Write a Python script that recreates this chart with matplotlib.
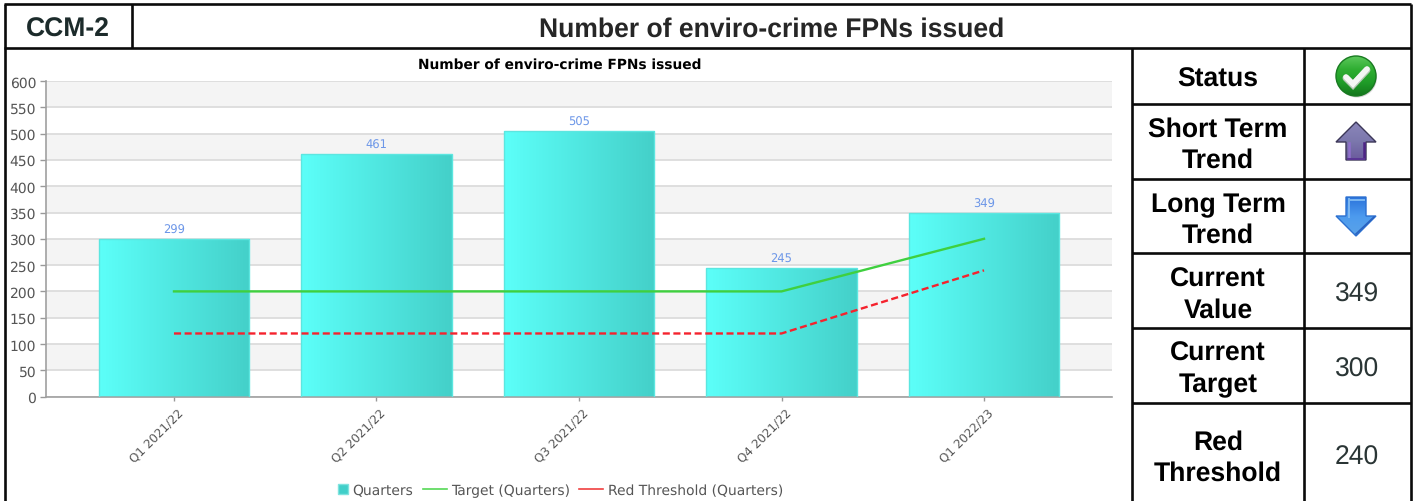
import matplotlib
matplotlib.use('Agg')
import matplotlib.pyplot as plt
import numpy as np
from matplotlib.colors import LinearSegmentedColormap
from matplotlib.legend_handler import HandlerPatch
from matplotlib.lines import Line2D
from matplotlib.patches import Circle, Patch, Polygon, Rectangle
from matplotlib.transforms import ScaledTranslation

plt.rcParams['text.hinting'] = 'no_hinting'

quarters = ['Q1 2021/22', 'Q2 2021/22', 'Q3 2021/22', 'Q4 2021/22', 'Q1 2022/23']
values = [299, 461, 505, 245, 349]
target = [200, 200, 200, 200, 300]
red_threshold = [120, 120, 120, 120, 240]

code = 'CCM-2'
title = 'Number of enviro-crime FPNs issued'
text_rows = ['Current\nValue', 'Current\nTarget', 'Red\nThreshold']
text_values = ['349', '300', '240']

W, H = 1415, 502
fig = plt.figure(figsize=(W / 100, H / 100), dpi=100, facecolor='white')


def px_axes(left, top, right, bottom):
    return fig.add_axes([left / W, 1 - bottom / H, (right - left) / W, (bottom - top) / H])


def square_swatch(legend, orig_handle, xdescent, ydescent, width, height, fontsize):
    # small square at the right end of the handle box
    side = 7.4
    return Rectangle((width - side - xdescent, (height - side) / 2 - ydescent), side, side)


# chart
ax = px_axes(46, 82, 1112, 397.6)
ax.set_xlim(-0.632, 4.632)
ax.set_ylim(0, 600)
ax.set_yticks(np.arange(0, 601, 50))
ax.set_xticks(range(len(quarters)))
ax.set_xticklabels(quarters, rotation=45, ha='right', rotation_mode='anchor', fontsize=8.6, color='#555555')
ax.tick_params(axis='y', labelsize=10, labelcolor='#555555', color='#999999', length=4, width=1, pad=3)
ax.tick_params(axis='x', color='#999999', length=3, width=1, pad=8)
# nudge the slanted labels, has to come after tick_params
shift = ScaledTranslation(4 / 100, 5 / 100, fig.dpi_scale_trans)
for lab in ax.get_xticklabels():
    lab.set_transform(lab.get_transform() + shift)
for s in ['top', 'right']:
    ax.spines[s].set_visible(False)
for s in ['left', 'bottom']:
    ax.spines[s].set_color('#a0a0a0')
    ax.spines[s].set_linewidth(1.2)

# alternate bands behind the grid
for low in np.arange(50, 600, 100):
    ax.axhspan(low, low + 50, color='#f4f4f4', lw=0, zorder=0)
ax.grid(axis='y', color='#dcdcdc', lw=1.3, zorder=1)
ax.set_axisbelow(True)

cyan = LinearSegmentedColormap.from_list('cyan', ['#5cfff9', '#44d0c9'])
bars = ax.bar(range(len(values)), values, width=0.741, color='none', edgecolor='#5ce6e0', lw=1, zorder=3)
for bar in bars:
    x0, w, h = bar.get_x(), bar.get_width(), bar.get_height()
    img = ax.imshow(np.linspace(0, 1, 256).reshape(1, -1), cmap=cyan, aspect='auto',
                    extent=(x0, x0 + w, 0, h), zorder=2)
    img.set_clip_path(bar)
ax.set_xlim(-0.632, 4.632)
ax.set_ylim(0, 600)
ax.bar_label(bars, padding=2.8, fontsize=8.3, color='#6d97e8')

ax.plot(range(len(target)), target, color='#3fd03f', lw=1.7, zorder=4)
ax.plot(range(len(red_threshold)), red_threshold, color='#f5222d', lw=1.7, ls=(0, (3, 1.5)), zorder=4)

fig.text(559.5 / W, 1 - 65 / H, title, ha='center', va='center', fontsize=9.9, fontweight='bold', color='black')

handles = [Patch(facecolor='#40cfc9', edgecolor='#7fe3de', label='Quarters'),
           Line2D([], [], color='#55d855', lw=1.2, label='Target (Quarters)'),
           Line2D([], [], color='#f04040', lw=1.2, label='Red Threshold (Quarters)')]
fig.legend(handles=handles, loc='center', bbox_to_anchor=(553.5 / W, 1 - 491 / H), ncol=3, frameon=False,
           fontsize=10, labelcolor='#555555', handlelength=1.75, handleheight=0.9, handletextpad=0.3,
           columnspacing=0.65, borderpad=0,
           handler_map={Patch: HandlerPatch(patch_func=square_swatch)})

# table frame and icons drawn on a pixel-sized overlay
ov = px_axes(0, 0, W, H)
ov.set_xlim(0, W)
ov.set_ylim(H, 0)
ov.axis('off')
ov.patch.set_alpha(0)

frame = [((4.5, 5), (4.5, 502)), ((4, 5), (1411, 5)), ((1410.5, 5), (1410.5, 502)), ((4, 49.3), (1411, 49.3)),
         ((132, 5), (132, 49)), ((1132, 49), (1132, 502)), ((1303.5, 49), (1303.5, 502)),
         ((1132, 105), (1411, 105)), ((1132, 179.5), (1411, 179.5)), ((1132, 254), (1411, 254)),
         ((1132, 329), (1411, 329)), ((1132, 404), (1411, 404))]
for a, b in frame:
    ov.plot([a[0], b[0]], [a[1], b[1]], color='#0a0a0a', lw=1.9, solid_capstyle='butt')

font = 'Liberation Sans'
bold = dict(ha='center', va='center', family=font, fontweight='bold', fontsize=19.1, linespacing=1.3)
ov.text(68, 30, code, color='#1c2b2b', **bold)
ov.text(771.5, 30, title, color='#262626', **bold)
ov.text(1218, 80, 'Status', **bold)
ov.text(1218, 145.5, 'Short Term\nTrend', **bold)
ov.text(1218, 220.5, 'Long Term\nTrend', **bold)
for label, val, yc in zip(text_rows, text_values, [295, 369.5, 458]):
    ov.text(1218, yc, label, **bold)
    ov.text(1357, yc, val, ha='center', va='center', family=font, fontsize=19.1, color='#2a3535')


def gradient_patch(patch, colors, box):
    ov.add_patch(patch)
    cmap = LinearSegmentedColormap.from_list('g', colors)
    img = ov.imshow(np.linspace(0, 1, 128).reshape(-1, 1), cmap=cmap, aspect='auto', extent=box,
                    zorder=patch.get_zorder() - 0.1)
    img.set_clip_path(patch)


# status tick
ov.add_patch(Circle((1357, 78.5), 20, fc='#b8b8b8', ec='none', alpha=0.6, zorder=2))
gradient_patch(Circle((1356, 77), 20, fc='none', ec='#187a20', lw=1, zorder=3),
               ['#5cc85c', '#2fae32', '#1f9c28', '#14761c'], (1336, 1376, 97, 57))
ov.plot([1346, 1353, 1367], [79, 86, 71], color='#b5c8b5', lw=5, solid_capstyle='round',
        solid_joinstyle='miter', zorder=4)
ov.plot([1346, 1353, 1367], [78, 85, 70], color='#f4f6f4', lw=4, solid_capstyle='round',
        solid_joinstyle='miter', zorder=5)

# trend arrows
up = [(1356, 123), (1376, 143), (1366, 143), (1366, 161), (1346, 161), (1346, 143), (1336, 143)]
gradient_patch(Polygon(up, closed=True, fc='none', ec='#3c3758', lw=1, zorder=3),
               ['#8b86ba', '#7c78ad', '#6a5a9c'], (1336, 1376, 161, 123))
ov.plot([1348.5, 1348.5], [144, 159], color='#8f6fcc', lw=1.8, zorder=4)
ov.plot([1363.5, 1363.5], [144, 159], color='#4e2486', lw=1.8, zorder=4)
ov.plot([1348, 1364], [159.5, 159.5], color='#5a3594', lw=1.4, zorder=4)

down = [(1346, 198), (1366, 198), (1366, 217), (1376, 217), (1356, 237), (1336, 217), (1346, 217)]
gradient_patch(Polygon(down, closed=True, fc='none', ec='#2c70d0', lw=1, zorder=3),
               ['#2b74dc', '#4d9bee', '#5ba3e8'], (1336, 1376, 237, 198))
ov.plot([1348.5, 1363.5], [200.5, 200.5], color='#7db8f2', lw=1.4, zorder=4)
ov.plot([1348.5, 1348.5], [200, 218], color='#7db8f2', lw=1.4, zorder=4)
ov.plot([1356, 1374], [235, 218], color='#2a62c0', lw=1.2, zorder=4)
ov.set_xlim(0, W)
ov.set_ylim(H, 0)

fig.savefig('out.png', dpi=100)
